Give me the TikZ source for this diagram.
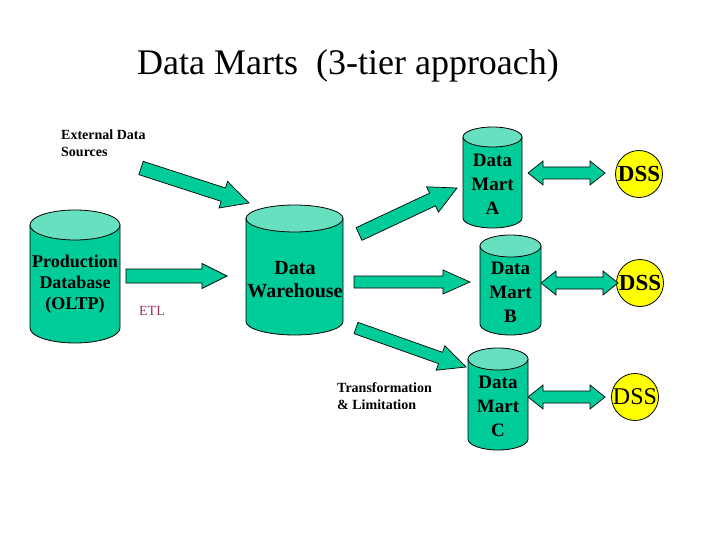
\documentclass[tikz,border=0pt]{standalone}
\usepackage{fontspec}
\setmainfont{Liberation Serif}
\usetikzlibrary{calc}
\definecolor{teal1}{RGB}{0,204,153}
\definecolor{teal2}{RGB}{102,224,190}
\definecolor{dssyel}{RGB}{255,255,0}
\definecolor{etlcol}{RGB}{153,51,102}
\newcommand{\mycyl}[5]{%
  \filldraw[cylbody] ({#1-#4},{-(#2+#5)}) -- ({#1-#4},{-(#3-#5)})
    arc[start angle=180,end angle=360,x radius=#4pt,y radius=#5pt]
    -- ({#1+#4},{-(#2+#5)}) -- cycle;
  \filldraw[cyltop] (#1,{-(#2+#5)}) ellipse[x radius=#4pt, y radius=#5pt];
}
\tikzset{
  cylbody/.style={fill=teal1, draw=black, line width=0.8pt},
  cyltop/.style={fill=teal2, draw=black, line width=0.8pt},
  dims/.code args={#1/#2/#3}{\def\bw{#1}\def\bW{#2}\def\bh{#3}},
  blockarrow/.style={fill=teal1, draw=black, line width=0.7pt, line join=miter,
    to path={let \p1=(\tikztostart), \p2=(\tikztotarget),
      \n1={atan2(\y2-\y1,\x2-\x1)}, \n2={veclen(\x2-\x1,\y2-\y1)} in
      ($(\p1)+({\n1+90}:\bw)$) -- ($(\p1)+(\n1:{\n2-\bh})+({\n1+90}:\bw)$)
      -- ($(\p1)+(\n1:{\n2-\bh})+({\n1+90}:\bW)$) -- (\p2)
      -- ($(\p1)+(\n1:{\n2-\bh})+({\n1-90}:\bW)$)
      -- ($(\p1)+(\n1:{\n2-\bh})+({\n1-90}:\bw)$)
      -- ($(\p1)+({\n1-90}:\bw)$) -- cycle}},
  dblarrow/.style={fill=teal1, draw=black, line width=0.7pt, line join=miter,
    to path={let \p1=(\tikztostart), \p2=(\tikztotarget),
      \n1={atan2(\y2-\y1,\x2-\x1)}, \n2={veclen(\x2-\x1,\y2-\y1)} in
      (\p1) -- ($(\p1)+(\n1:\bh)+({\n1+90}:\bW)$)
      -- ($(\p1)+(\n1:\bh)+({\n1+90}:\bw)$)
      -- ($(\p1)+(\n1:{\n2-\bh})+({\n1+90}:\bw)$)
      -- ($(\p1)+(\n1:{\n2-\bh})+({\n1+90}:\bW)$) -- (\p2)
      -- ($(\p1)+(\n1:{\n2-\bh})+({\n1-90}:\bW)$)
      -- ($(\p1)+(\n1:{\n2-\bh})+({\n1-90}:\bw)$)
      -- ($(\p1)+(\n1:\bh)+({\n1-90}:\bw)$)
      -- ($(\p1)+(\n1:\bh)+({\n1-90}:\bW)$) -- cycle}},
  cyltext/.style={align=center, inner sep=0pt, font=\bfseries\fontsize{19}{24}\selectfont},
  small/.style={align=left, inner sep=0pt, anchor=north west, font=\bfseries\fontsize{14}{17}\selectfont},
  dss/.style={circle, fill=dssyel, draw=black, line width=0.8pt, minimum size=47pt, inner sep=0pt},
  dsstext/.style={font=\bfseries\fontsize{23}{26}\selectfont, inner sep=0pt}
}
\begin{document}
\begin{tikzpicture}[x=1pt,y=1pt]
\useasboundingbox (0,0) rectangle (720,-540);
\fill[white] (0,0) rectangle (720,-540);

% title
\node (title) at (348,-66) {\fontsize{36}{40}\selectfont Data Marts\ \ (3-tier approach)};

% cylinders
\mycyl{75}{210}{343}{45}{15}
\mycyl{294.5}{205}{335}{48.5}{13.5}
\mycyl{492.5}{127}{228}{29.5}{10}
\mycyl{510.5}{235}{335}{30.5}{11}
\mycyl{498}{348}{450}{30}{11}

\node[cyltext, font=\bfseries\fontsize{18}{21}\selectfont] (prod) at (75,-284) {Production\\Database\\(OLTP)};
\node[cyltext, font=\bfseries\fontsize{20}{23}\selectfont] (dw) at (295,-280) {Data\\Warehouse};
\node[cyltext] (ma) at (492.5,-184) {Data\\Mart\\A};
\node[cyltext] (mb) at (510.5,-292) {Data\\Mart\\B};
\node[cyltext] (mc) at (498,-406) {Data\\Mart\\C};

% labels
\node[small] (ext) at (61,-130) {External Data\\Sources};
\node[small] (trans) at (337,-382) {Transformation\\\& Limitation};
\node[inner sep=0pt, text=etlcol, font=\fontsize{14}{16}\selectfont] (etl) at (152,-311) {ETL};

% DSS
\node[dss] (dssa) at (639,-174) {};
\node[dsstext] at (dssa) {DSS};
\node[dss] (dssb) at (640,-283) {};
\node[dsstext] at (dssb) {DSS};
\node[dss] (dssc) at (635,-397) {};
\node[dsstext, font=\fontsize{24}{26}\selectfont] at (dssc) {DSS};

% arrow end points
\coordinate (e1) at (141,-168);
\coordinate (e2) at (249,-203);
\coordinate (p1) at (126,-276);
\coordinate (p2) at (227,-276);
\coordinate (a1) at (359,-234);
\coordinate (a2) at (457,-188);
\coordinate (b1) at (354,-282);
\coordinate (b2) at (470,-282);
\coordinate (c1) at (356,-328);
\coordinate (c2) at (466,-367);
\coordinate (da1) at (528,-173);
\coordinate (da2) at (605,-173);
\coordinate (db1) at (541,-283);
\coordinate (db2) at (618,-283);
\coordinate (dc1) at (528,-397);
\coordinate (dc2) at (605,-397);

\draw[blockarrow, dims=7/14/27] (e1) to (e2);
\draw[blockarrow, dims=7/12.5/25] (p1) to (p2);
\draw[blockarrow, dims=7/14/27] (a1) to (a2);
\draw[blockarrow, dims=6/12/27] (b1) to (b2);
\draw[blockarrow, dims=6/13/27] (c1) to (c2);
\draw[dblarrow, dims=6/12/15] (da1) to (da2);
\draw[dblarrow, dims=6/12/15] (db1) to (db2);
\draw[dblarrow, dims=6/12/15] (dc1) to (dc2);
\end{tikzpicture}
\end{document}
